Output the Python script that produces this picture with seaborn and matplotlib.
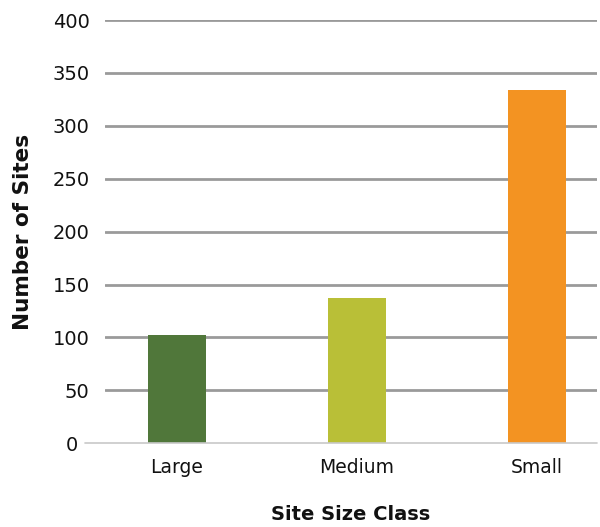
import matplotlib
matplotlib.use('Agg')
import matplotlib.pyplot as plt
import matplotlib.transforms as mtransforms
import seaborn as sns
import pandas as pd

# Dữ liệu
categories = ['Large', 'Medium', 'Small']
site_counts = [102, 137, 334]
bar_colors = ['#50773a', '#b9bf37', '#f39322']
y_ticks = [0, 50, 100, 150, 200, 250, 300, 350, 400]

df = pd.DataFrame({'size_class': categories, 'count': site_counts})

sns.set_style('white')
plt.rcParams['font.family'] = ['DejaVu Sans']

fig = plt.figure(figsize=(6, 5.27), dpi=100)
ax = fig.add_axes([0.175, 0.159, 0.82, 0.803])

# Lưới ngang
for t in y_ticks[1:]:
    ax.axhline(t, color='#9a9a9a', linewidth=2, zorder=0)
ax.axhline(0, xmin=-0.04, xmax=1, color='#c8c8c8', linewidth=1.2, clip_on=False, zorder=3)

sns.barplot(data=df, x='size_class', y='count', hue='size_class',
            palette=bar_colors, saturation=1, width=0.32, linewidth=0,
            legend=False, ax=ax, zorder=2)

ax.set_xlim(-0.4, 2.333)
ax.set_ylim(0, 400)
ax.set_yticks(y_ticks)
ax.set_yticklabels([str(t) for t in y_ticks], fontsize=14, color='#111111')
ax.tick_params(axis='y', length=0, pad=11)
ax.tick_params(axis='x', length=0, pad=11, labelsize=13.5, labelcolor='#111111')

# Nhãn "0" lùi sang trái, nhường chỗ cho đường trục kéo dài
zero_lbl = ax.get_yticklabels()[0]
zero_lbl.set_transform(zero_lbl.get_transform() +
                       mtransforms.ScaledTranslation(-12 / 100, 0, fig.dpi_scale_trans))

for s in ax.spines.values():
    s.set_visible(False)

ax.set_xlabel('Site Size Class', fontsize=14, fontweight='bold', labelpad=20, color='#111111')
ax.set_ylabel('Number of Sites', fontsize=15.5, fontweight='bold', labelpad=14, color='#111111')

fig.savefig('out.png', dpi=100)
